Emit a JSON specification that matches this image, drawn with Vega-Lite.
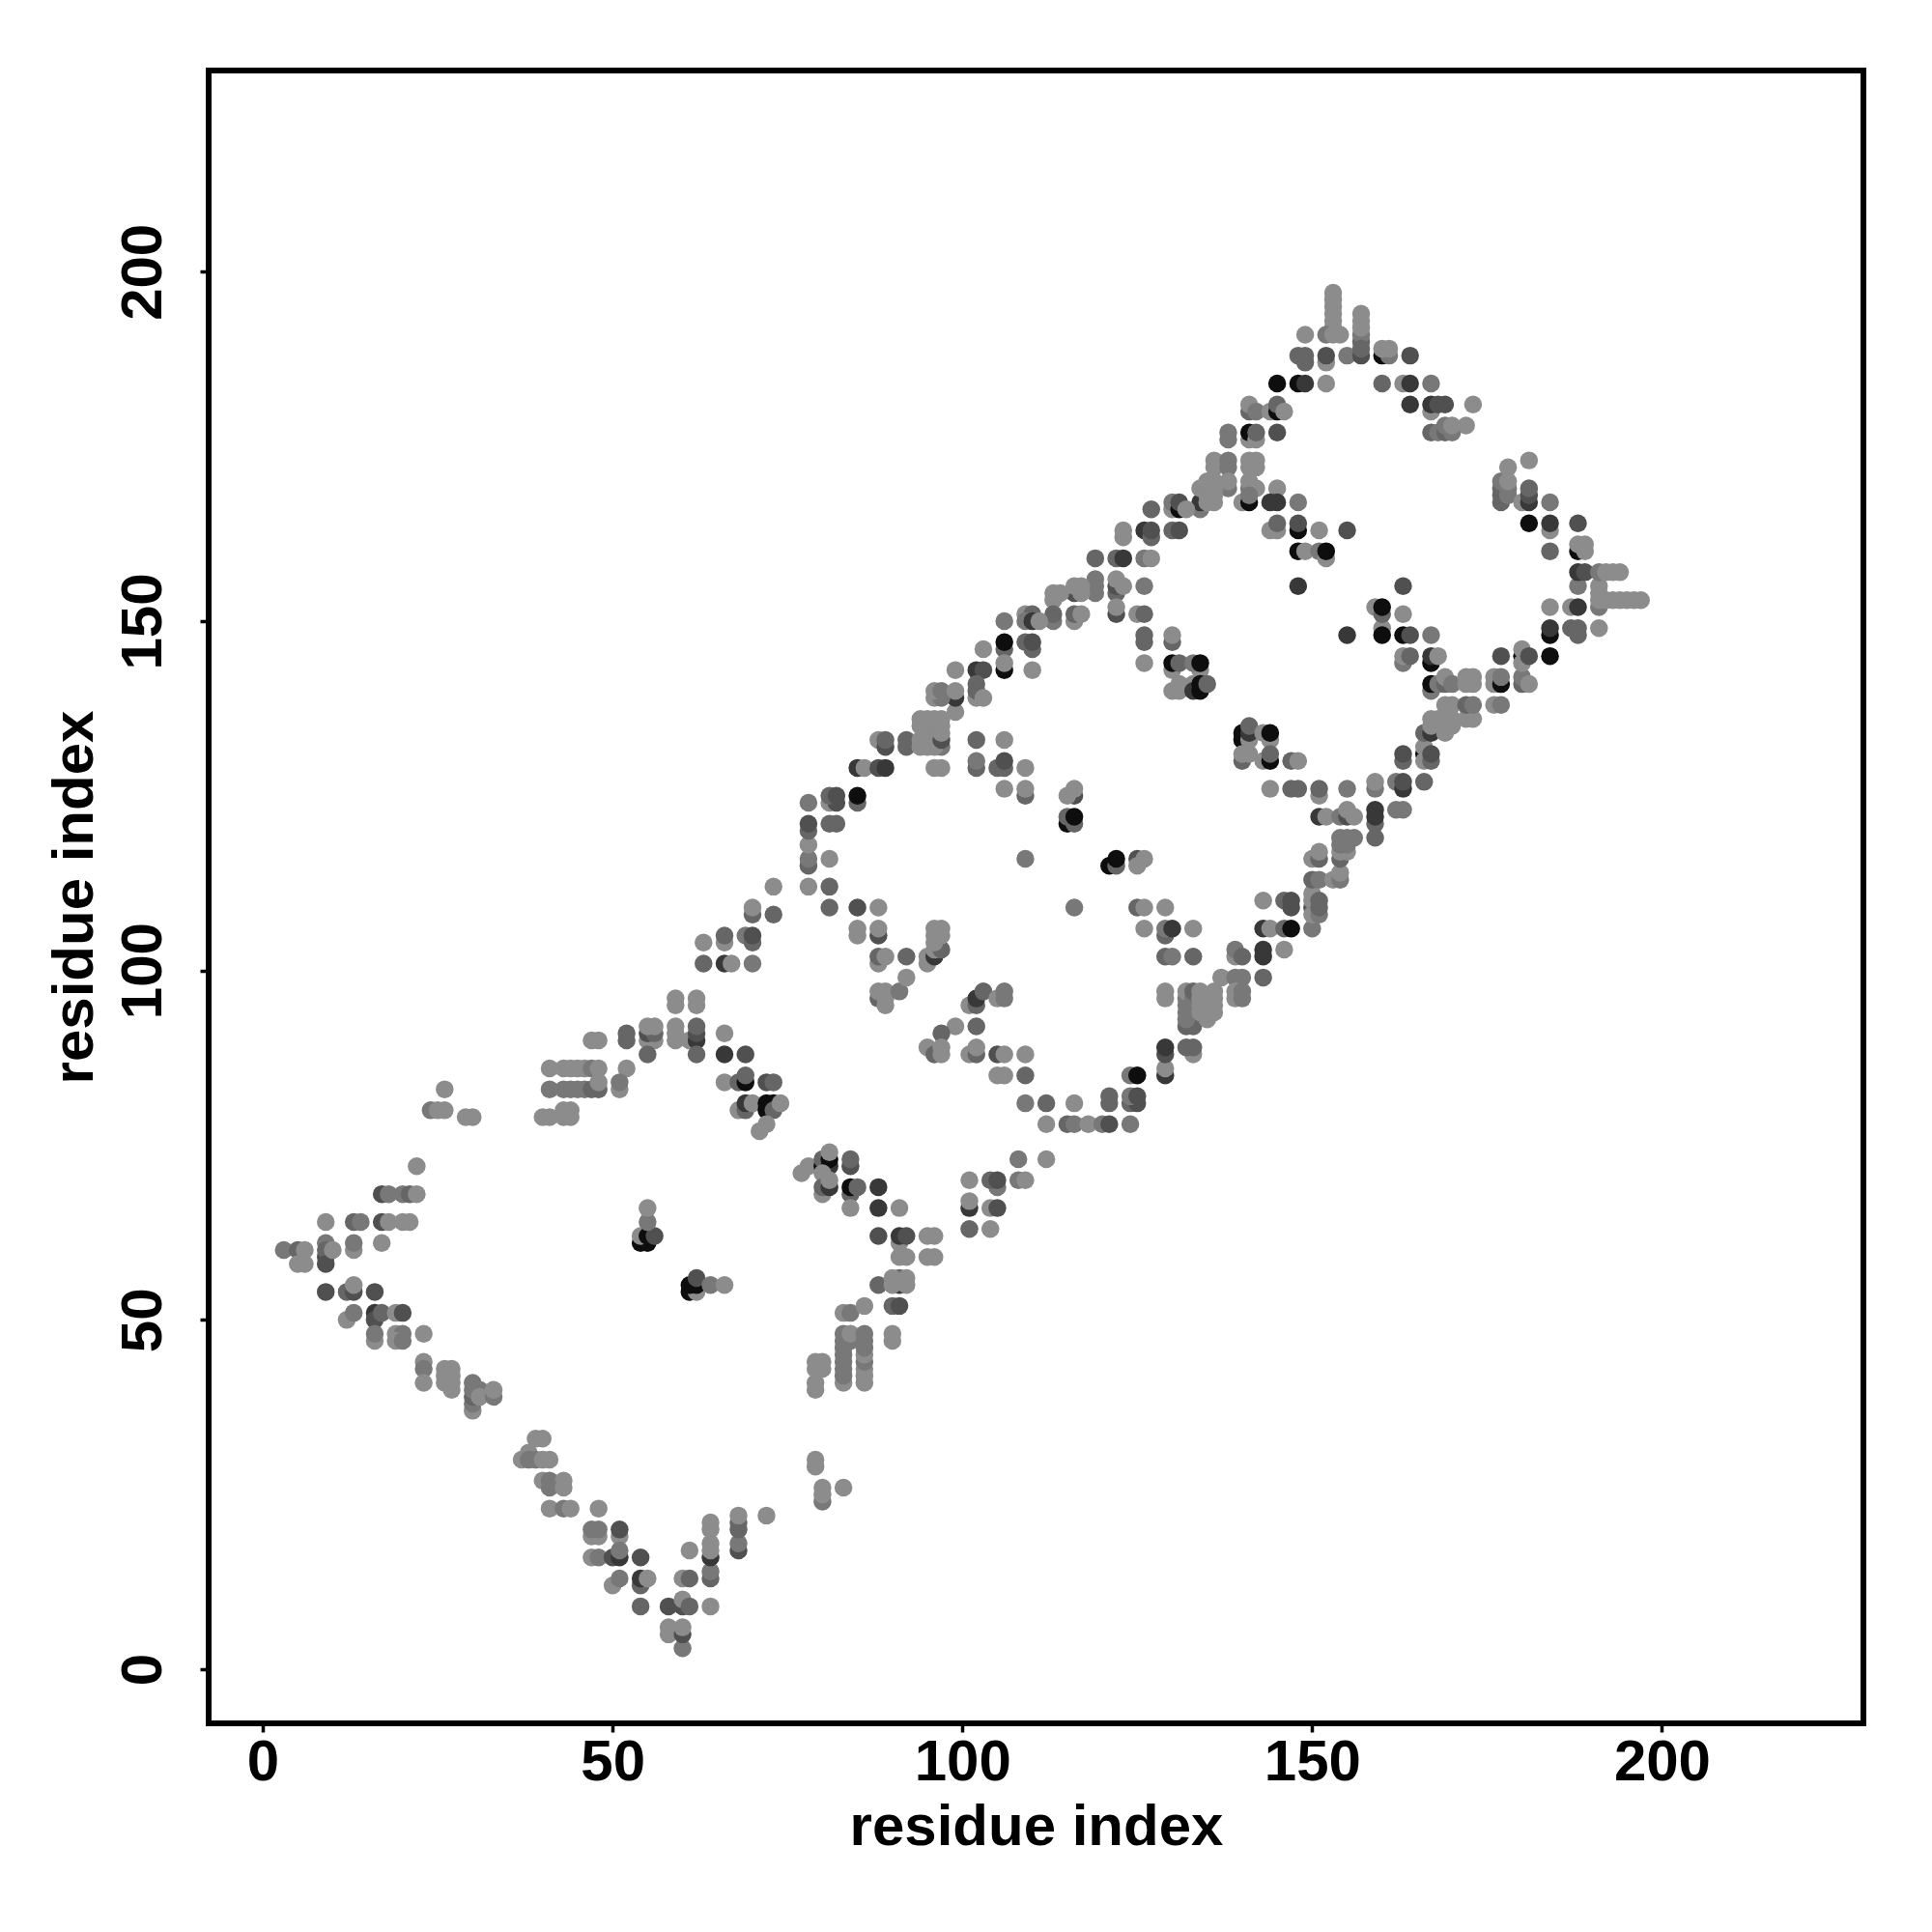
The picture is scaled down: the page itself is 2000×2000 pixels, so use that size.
{"$schema":"https://vega.github.io/schema/vega-lite/v6.json","autosize":{"type":"none"},"padding":{"left":216,"top":73,"right":71,"bottom":216},"width":1713,"height":1711,"background":"white","view":{"stroke":"black","strokeWidth":6,"fill":"white"},"data":{"values":[
{"x":3,"y":60,"s":2},{"x":5,"y":60,"s":3},{"x":6,"y":60,"s":1},{"x":5,"y":58,"s":1},{"x":6,"y":58,"s":1},{"x":9,"y":64,"s":1},{"x":9,"y":61,"s":2},{"x":9,"y":59,"s":4},{"x":9,"y":60,"s":3},{"x":9,"y":58,"s":4},{"x":10,"y":60,"s":1},{"x":13,"y":60,"s":1},{"x":13,"y":61,"s":2},{"x":13,"y":64,"s":3},{"x":14,"y":64,"s":2},{"x":17,"y":64,"s":4},{"x":18,"y":64,"s":1},{"x":20,"y":64,"s":1},{"x":21,"y":64,"s":1},{"x":17,"y":61,"s":1},{"x":17,"y":68,"s":4},{"x":18,"y":68,"s":2},{"x":20,"y":68,"s":2},{"x":21,"y":68,"s":3},{"x":22,"y":68,"s":1},{"x":22,"y":72,"s":1},{"x":26,"y":83,"s":1},{"x":24,"y":80,"s":2},{"x":25,"y":80,"s":1},{"x":26,"y":80,"s":1},{"x":29,"y":79,"s":1},{"x":30,"y":79,"s":1},
{"x":41,"y":86,"s":1},{"x":43,"y":86,"s":1},{"x":44,"y":86,"s":1},{"x":45,"y":86,"s":1},{"x":46,"y":86,"s":1},{"x":47,"y":86,"s":2},{"x":48,"y":86,"s":1},{"x":52,"y":86,"s":1},{"x":41,"y":83,"s":2},{"x":43,"y":83,"s":2},{"x":44,"y":83,"s":2},{"x":45,"y":83,"s":2},{"x":46,"y":83,"s":2},{"x":47,"y":83,"s":3},{"x":48,"y":83,"s":3},{"x":48,"y":84,"s":1},{"x":51,"y":83,"s":1},{"x":51,"y":84,"s":2},{"x":40,"y":79,"s":1},{"x":41,"y":79,"s":1},{"x":43,"y":79,"s":1},{"x":44,"y":79,"s":1},{"x":43,"y":80,"s":1},{"x":44,"y":80,"s":1},
{"x":9,"y":54,"s":4},{"x":12,"y":54,"s":3},{"x":13,"y":54,"s":4},{"x":13,"y":55,"s":1},{"x":16,"y":54,"s":4},{"x":12,"y":50,"s":1},{"x":13,"y":51,"s":2},{"x":16,"y":51,"s":5},{"x":16,"y":50,"s":4},{"x":17,"y":51,"s":3},{"x":19,"y":51,"s":1},{"x":20,"y":51,"s":4},{"x":16,"y":47,"s":1},{"x":16,"y":48,"s":2},{"x":19,"y":48,"s":1},{"x":20,"y":48,"s":2},{"x":19,"y":47,"s":1},{"x":20,"y":47,"s":2},{"x":23,"y":48,"s":1},{"x":23,"y":44,"s":1},{"x":23,"y":43,"s":2},{"x":23,"y":41,"s":1},{"x":26,"y":43,"s":1},{"x":27,"y":43,"s":1},{"x":26,"y":42,"s":1},{"x":27,"y":42,"s":1},{"x":26,"y":41,"s":1},{"x":27,"y":41,"s":1},{"x":27,"y":40,"s":1},{"x":30,"y":37,"s":1},{"x":30,"y":38,"s":2},{"x":30,"y":39,"s":3},{"x":30,"y":40,"s":2},{"x":30,"y":41,"s":2},{"x":31,"y":40,"s":2},{"x":31,"y":39,"s":1},{"x":33,"y":39,"s":2},{"x":33,"y":40,"s":1},
{"x":39,"y":33,"s":1},{"x":40,"y":33,"s":1},{"x":38,"y":31,"s":1},{"x":37,"y":30,"s":1},{"x":38,"y":30,"s":2},{"x":39,"y":30,"s":2},{"x":40,"y":30,"s":1},{"x":41,"y":30,"s":1},{"x":40,"y":27,"s":1},{"x":41,"y":27,"s":2},{"x":43,"y":27,"s":1},{"x":41,"y":26,"s":2},{"x":43,"y":26,"s":1},{"x":41,"y":23,"s":1},{"x":43,"y":23,"s":2},{"x":44,"y":23,"s":1},{"x":48,"y":23,"s":1},{"x":47,"y":19,"s":1},{"x":48,"y":19,"s":1},{"x":47,"y":20,"s":2},{"x":48,"y":20,"s":2},{"x":51,"y":19,"s":1},{"x":51,"y":20,"s":4},{"x":47,"y":16,"s":1},{"x":48,"y":16,"s":2},{"x":50,"y":16,"s":4},{"x":51,"y":16,"s":5},{"x":51,"y":17,"s":2},{"x":54,"y":16,"s":4},{"x":50,"y":12,"s":1},{"x":51,"y":13,"s":2},{"x":54,"y":12,"s":3},{"x":54,"y":13,"s":5},{"x":55,"y":13,"s":1},{"x":54,"y":9,"s":3},{"x":58,"y":9,"s":4},{"x":60,"y":9,"s":4},{"x":60,"y":10,"s":1},{"x":61,"y":9,"s":3},{"x":64,"y":9,"s":1},{"x":58,"y":6,"s":1},{"x":58,"y":5,"s":1},{"x":60,"y":3,"s":2},{"x":60,"y":5,"s":4},{"x":60,"y":6,"s":1},{"x":60,"y":13,"s":1},{"x":61,"y":13,"s":3},{"x":64,"y":13,"s":3},{"x":64,"y":14,"s":2},{"x":61,"y":17,"s":1},{"x":64,"y":16,"s":5},{"x":64,"y":17,"s":1},{"x":64,"y":18,"s":1},{"x":64,"y":20,"s":1},{"x":64,"y":21,"s":1},{"x":68,"y":17,"s":4},{"x":68,"y":18,"s":2},{"x":68,"y":20,"s":3},{"x":68,"y":21,"s":3},{"x":68,"y":22,"s":1},{"x":72,"y":22,"s":1},{"x":79,"y":30,"s":1},{"x":79,"y":29,"s":1},{"x":80,"y":24,"s":2},{"x":80,"y":25,"s":1},{"x":80,"y":26,"s":1},{"x":83,"y":26,"s":1},
{"x":79,"y":44,"s":1},{"x":80,"y":44,"s":1},{"x":79,"y":43,"s":1},{"x":80,"y":43,"s":1},{"x":79,"y":41,"s":1},{"x":79,"y":40,"s":1},{"x":83,"y":41,"s":1},{"x":83,"y":42,"s":2},{"x":83,"y":43,"s":2},{"x":83,"y":44,"s":2},{"x":83,"y":45,"s":2},{"x":83,"y":46,"s":2},{"x":83,"y":47,"s":2},{"x":83,"y":48,"s":2},{"x":84,"y":47,"s":2},{"x":84,"y":48,"s":1},{"x":86,"y":41,"s":1},{"x":86,"y":42,"s":1},{"x":86,"y":43,"s":1},{"x":86,"y":44,"s":2},{"x":86,"y":45,"s":1},{"x":86,"y":46,"s":2},{"x":86,"y":47,"s":2},{"x":86,"y":48,"s":2},{"x":90,"y":47,"s":1},{"x":90,"y":48,"s":1},{"x":83,"y":51,"s":1},{"x":84,"y":51,"s":2},{"x":86,"y":52,"s":1},{"x":90,"y":52,"s":3},{"x":91,"y":52,"s":4},{"x":88,"y":55,"s":3},{"x":91,"y":55,"s":5},{"x":91,"y":56,"s":3},{"x":90,"y":55,"s":1},{"x":90,"y":56,"s":1},{"x":92,"y":55,"s":1},{"x":92,"y":56,"s":1},{"x":91,"y":59,"s":1},{"x":92,"y":59,"s":1},{"x":95,"y":59,"s":1},{"x":96,"y":59,"s":1},{"x":91,"y":61,"s":1},{"x":88,"y":62,"s":4},{"x":91,"y":62,"s":5},{"x":92,"y":62,"s":4},{"x":95,"y":62,"s":1},{"x":96,"y":62,"s":1},{"x":101,"y":63,"s":3},{"x":104,"y":63,"s":1},{"x":101,"y":66,"s":5},{"x":101,"y":67,"s":1},{"x":104,"y":66,"s":1},{"x":105,"y":66,"s":4},{"x":101,"y":70,"s":1},{"x":105,"y":69,"s":2},{"x":104,"y":70,"s":3},{"x":105,"y":70,"s":4},{"x":108,"y":70,"s":2},{"x":109,"y":70,"s":1},{"x":108,"y":73,"s":2},{"x":112,"y":73,"s":1},
{"x":59,"y":95,"s":1},{"x":62,"y":95,"s":1},{"x":59,"y":96,"s":1},{"x":62,"y":96,"s":1},{"x":52,"y":90,"s":3},{"x":52,"y":91,"s":3},{"x":47,"y":90,"s":1},{"x":48,"y":90,"s":1},{"x":55,"y":90,"s":1},{"x":56,"y":90,"s":1},{"x":55,"y":91,"s":4},{"x":56,"y":91,"s":3},{"x":55,"y":92,"s":1},{"x":56,"y":92,"s":1},{"x":55,"y":88,"s":3},{"x":59,"y":90,"s":1},{"x":59,"y":91,"s":1},{"x":59,"y":92,"s":1},{"x":61,"y":90,"s":1},{"x":62,"y":90,"s":5},{"x":62,"y":91,"s":4},{"x":62,"y":92,"s":3},{"x":62,"y":88,"s":3},{"x":66,"y":91,"s":1},{"x":66,"y":88,"s":5},{"x":69,"y":88,"s":4},{"x":66,"y":84,"s":1},{"x":68,"y":84,"s":3},{"x":69,"y":84,"s":6},{"x":69,"y":85,"s":3},{"x":72,"y":84,"s":4},{"x":73,"y":84,"s":3},{"x":68,"y":80,"s":1},{"x":69,"y":80,"s":3},{"x":69,"y":81,"s":5},{"x":70,"y":81,"s":1},{"x":72,"y":80,"s":6},{"x":72,"y":81,"s":6},{"x":73,"y":81,"s":6},{"x":73,"y":80,"s":3},{"x":74,"y":81,"s":1},{"x":71,"y":77,"s":1},{"x":72,"y":78,"s":1},{"x":77,"y":71,"s":1},{"x":78,"y":72,"s":1},{"x":80,"y":72,"s":6},{"x":80,"y":73,"s":3},{"x":81,"y":72,"s":5},{"x":81,"y":73,"s":6},{"x":81,"y":74,"s":1},{"x":80,"y":71,"s":1},{"x":84,"y":72,"s":4},{"x":84,"y":73,"s":3},{"x":80,"y":68,"s":1},{"x":80,"y":69,"s":3},{"x":81,"y":69,"s":5},{"x":81,"y":70,"s":1},{"x":84,"y":68,"s":3},{"x":84,"y":69,"s":6},{"x":85,"y":69,"s":3},{"x":84,"y":66,"s":1},{"x":88,"y":69,"s":5},{"x":88,"y":66,"s":5},{"x":91,"y":66,"s":1},
{"x":54,"y":61,"s":6},{"x":55,"y":61,"s":6},{"x":54,"y":62,"s":1},{"x":55,"y":62,"s":6},{"x":56,"y":62,"s":4},{"x":55,"y":64,"s":2},{"x":55,"y":66,"s":1},{"x":61,"y":54,"s":6},{"x":62,"y":54,"s":1},{"x":61,"y":55,"s":6},{"x":62,"y":55,"s":6},{"x":62,"y":56,"s":4},{"x":64,"y":55,"s":2},{"x":66,"y":55,"s":1},
{"x":63,"y":104,"s":1},{"x":63,"y":101,"s":3},{"x":66,"y":101,"s":5},{"x":67,"y":101,"s":1},{"x":70,"y":101,"s":2},{"x":66,"y":104,"s":1},{"x":66,"y":105,"s":3},{"x":69,"y":105,"s":2},{"x":70,"y":104,"s":3},{"x":70,"y":105,"s":4},{"x":70,"y":108,"s":3},{"x":70,"y":109,"s":1},
{"x":99,"y":143,"s":1},{"x":99,"y":137,"s":1},{"x":99,"y":139,"s":5},{"x":96,"y":139,"s":1},{"x":97,"y":139,"s":2},{"x":96,"y":140,"s":1},{"x":97,"y":140,"s":2},{"x":99,"y":140,"s":1},{"x":88,"y":133,"s":1},{"x":89,"y":132,"s":4},{"x":89,"y":133,"s":3},{"x":92,"y":132,"s":3},{"x":92,"y":133,"s":3},{"x":97,"y":132,"s":2},{"x":96,"y":132,"s":1},{"x":94,"y":132,"s":1},{"x":95,"y":132,"s":1},{"x":94,"y":133,"s":1},{"x":95,"y":133,"s":1},{"x":96,"y":133,"s":1},{"x":97,"y":133,"s":4},{"x":94,"y":135,"s":1},{"x":95,"y":135,"s":1},{"x":96,"y":135,"s":1},{"x":97,"y":134,"s":1},{"x":97,"y":135,"s":1},{"x":94,"y":136,"s":1},{"x":95,"y":136,"s":1},{"x":96,"y":136,"s":1},{"x":97,"y":136,"s":1},
{"x":88,"y":96,"s":3},{"x":88,"y":97,"s":1},{"x":89,"y":95,"s":1},{"x":89,"y":96,"s":1},{"x":89,"y":97,"s":1},{"x":91,"y":97,"s":2},{"x":92,"y":99,"s":1},{"x":88,"y":101,"s":1},{"x":88,"y":102,"s":3},{"x":89,"y":102,"s":1},{"x":92,"y":102,"s":3},{"x":95,"y":101,"s":1},{"x":95,"y":102,"s":1},{"x":96,"y":102,"s":5},{"x":96,"y":103,"s":1},{"x":97,"y":103,"s":3},{"x":96,"y":104,"s":1},{"x":96,"y":105,"s":1},{"x":97,"y":105,"s":1},{"x":96,"y":106,"s":1},{"x":97,"y":106,"s":1},{"x":85,"y":105,"s":1},{"x":85,"y":106,"s":1},{"x":88,"y":105,"s":4},{"x":88,"y":106,"s":1},{"x":81,"y":109,"s":3},{"x":85,"y":109,"s":4},{"x":88,"y":109,"s":1},{"x":73,"y":108,"s":3},{"x":73,"y":112,"s":1},{"x":78,"y":112,"s":1},{"x":81,"y":112,"s":3},{"x":78,"y":115,"s":3},{"x":78,"y":116,"s":2},{"x":81,"y":116,"s":1},{"x":78,"y":118,"s":1},{"x":78,"y":120,"s":3},{"x":78,"y":121,"s":4},{"x":81,"y":121,"s":3},{"x":82,"y":121,"s":3},{"x":78,"y":124,"s":2},{"x":81,"y":124,"s":1},{"x":82,"y":124,"s":4},{"x":81,"y":125,"s":3},{"x":82,"y":125,"s":4},{"x":85,"y":124,"s":3},{"x":85,"y":125,"s":6},{"x":85,"y":129,"s":5},{"x":86,"y":129,"s":1},{"x":88,"y":129,"s":4},{"x":89,"y":129,"s":5},{"x":96,"y":129,"s":1},{"x":97,"y":129,"s":1},{"x":102,"y":129,"s":3},{"x":102,"y":130,"s":2},{"x":105,"y":129,"s":3},{"x":106,"y":129,"s":3},{"x":106,"y":130,"s":4},{"x":109,"y":129,"s":1},{"x":106,"y":126,"s":1},{"x":109,"y":125,"s":3},{"x":109,"y":126,"s":1},{"x":101,"y":95,"s":1},{"x":102,"y":95,"s":3},{"x":102,"y":96,"s":5},{"x":103,"y":97,"s":3},{"x":105,"y":96,"s":1},{"x":106,"y":96,"s":2},{"x":106,"y":97,"s":2},{"x":99,"y":92,"s":1},{"x":102,"y":92,"s":3},{"x":97,"y":91,"s":3},{"x":95,"y":89,"s":1},{"x":96,"y":88,"s":3},{"x":97,"y":88,"s":1},{"x":97,"y":89,"s":1},{"x":101,"y":88,"s":1},{"x":102,"y":88,"s":3},{"x":102,"y":89,"s":1},{"x":105,"y":88,"s":4},{"x":106,"y":88,"s":1},{"x":109,"y":88,"s":1},{"x":105,"y":85,"s":1},{"x":106,"y":85,"s":1},{"x":109,"y":85,"s":3},{"x":109,"y":81,"s":2},{"x":112,"y":81,"s":3},{"x":116,"y":81,"s":1},{"x":121,"y":81,"s":3},{"x":121,"y":82,"s":3},{"x":124,"y":81,"s":3},{"x":125,"y":81,"s":4},{"x":124,"y":82,"s":2},{"x":125,"y":82,"s":4},{"x":124,"y":85,"s":2},{"x":125,"y":85,"s":6},{"x":112,"y":78,"s":1},{"x":115,"y":78,"s":3},{"x":116,"y":78,"s":2},{"x":118,"y":78,"s":1},{"x":120,"y":78,"s":2},{"x":121,"y":78,"s":4},{"x":124,"y":78,"s":2},
{"x":109,"y":116,"s":2},{"x":116,"y":125,"s":4},{"x":115,"y":125,"s":1},{"x":116,"y":126,"s":1},{"x":115,"y":121,"s":6},{"x":116,"y":121,"s":3},{"x":115,"y":122,"s":3},{"x":116,"y":122,"s":6},{"x":121,"y":115,"s":6},{"x":122,"y":115,"s":3},{"x":122,"y":116,"s":6},{"x":125,"y":116,"s":4},{"x":125,"y":115,"s":1},{"x":126,"y":116,"s":1},{"x":116,"y":109,"s":2},{"x":125,"y":109,"s":3},{"x":126,"y":109,"s":1},{"x":129,"y":109,"s":1},{"x":126,"y":106,"s":1},{"x":129,"y":105,"s":3},{"x":129,"y":106,"s":2},{"x":130,"y":106,"s":5},{"x":133,"y":106,"s":1},{"x":129,"y":102,"s":3},{"x":130,"y":102,"s":2},{"x":133,"y":102,"s":3},{"x":129,"y":96,"s":1},{"x":129,"y":97,"s":1},{"x":132,"y":92,"s":3},{"x":133,"y":92,"s":3},{"x":132,"y":93,"s":2},{"x":132,"y":94,"s":2},{"x":132,"y":95,"s":2},{"x":132,"y":96,"s":2},{"x":132,"y":97,"s":1},{"x":133,"y":96,"s":2},{"x":133,"y":97,"s":3},{"x":134,"y":94,"s":1},{"x":134,"y":95,"s":1},{"x":134,"y":96,"s":1},{"x":134,"y":97,"s":1},{"x":135,"y":93,"s":1},{"x":135,"y":94,"s":1},{"x":136,"y":94,"s":1},{"x":136,"y":95,"s":1},{"x":136,"y":96,"s":1},{"x":136,"y":97,"s":1},{"x":129,"y":85,"s":5},{"x":129,"y":86,"s":1},{"x":129,"y":88,"s":4},{"x":129,"y":89,"s":5},{"x":133,"y":88,"s":1},{"x":132,"y":89,"s":3},{"x":133,"y":89,"s":3},{"x":137,"y":99,"s":1},{"x":139,"y":99,"s":2},{"x":140,"y":99,"s":2},{"x":139,"y":102,"s":1},{"x":139,"y":103,"s":2},{"x":140,"y":102,"s":3},{"x":139,"y":96,"s":1},{"x":139,"y":97,"s":1},{"x":140,"y":96,"s":2},{"x":140,"y":97,"s":2},{"x":143,"y":99,"s":3},{"x":143,"y":102,"s":5},{"x":143,"y":103,"s":5},{"x":146,"y":103,"s":1},{"x":143,"y":106,"s":5},{"x":144,"y":106,"s":1},{"x":146,"y":106,"s":3},{"x":147,"y":106,"s":6},{"x":150,"y":106,"s":2},{"x":143,"y":110,"s":1},{"x":146,"y":110,"s":3},{"x":147,"y":109,"s":4},{"x":147,"y":110,"s":4},{"x":150,"y":109,"s":4},{"x":150,"y":108,"s":1},{"x":151,"y":108,"s":2},{"x":150,"y":110,"s":1},{"x":150,"y":111,"s":1},{"x":151,"y":109,"s":3},{"x":151,"y":110,"s":3},{"x":150,"y":113,"s":3},{"x":151,"y":113,"s":2},{"x":153,"y":113,"s":1},{"x":154,"y":113,"s":2},{"x":154,"y":114,"s":1},{"x":150,"y":116,"s":1},{"x":151,"y":116,"s":3},{"x":151,"y":117,"s":1},{"x":154,"y":116,"s":3},{"x":154,"y":117,"s":1},{"x":155,"y":117,"s":1},{"x":154,"y":118,"s":2},{"x":155,"y":118,"s":2},{"x":154,"y":119,"s":2},{"x":155,"y":119,"s":2},{"x":156,"y":119,"s":2},{"x":159,"y":119,"s":3},{"x":151,"y":122,"s":5},{"x":152,"y":122,"s":1},{"x":154,"y":122,"s":2},{"x":155,"y":122,"s":4},{"x":155,"y":123,"s":1},{"x":156,"y":122,"s":1},{"x":159,"y":121,"s":3},{"x":159,"y":122,"s":5},{"x":159,"y":123,"s":5},{"x":162,"y":123,"s":2},{"x":163,"y":123,"s":2},{"x":144,"y":126,"s":1},{"x":147,"y":126,"s":3},{"x":148,"y":126,"s":3},{"x":151,"y":125,"s":1},{"x":151,"y":126,"s":3},{"x":155,"y":126,"s":2},{"x":159,"y":126,"s":2},{"x":159,"y":127,"s":1},{"x":162,"y":127,"s":2},{"x":163,"y":126,"s":5},{"x":163,"y":127,"s":4},{"x":166,"y":127,"s":3},{"x":163,"y":130,"s":3},{"x":163,"y":131,"s":4},{"x":166,"y":131,"s":6},{"x":166,"y":130,"s":1},{"x":166,"y":132,"s":1},{"x":167,"y":130,"s":3},{"x":167,"y":131,"s":4},{"x":166,"y":134,"s":3},{"x":167,"y":134,"s":5},{"x":167,"y":135,"s":1},{"x":169,"y":134,"s":1},{"x":167,"y":136,"s":1},{"x":168,"y":136,"s":1},{"x":169,"y":135,"s":1},{"x":169,"y":136,"s":1},{"x":170,"y":135,"s":1},{"x":170,"y":136,"s":1},{"x":172,"y":136,"s":1},{"x":173,"y":136,"s":1},{"x":169,"y":138,"s":1},{"x":170,"y":138,"s":1},{"x":172,"y":138,"s":3},{"x":173,"y":138,"s":2},{"x":176,"y":138,"s":1},{"x":177,"y":138,"s":2},{"x":167,"y":140,"s":2},{"x":167,"y":141,"s":6},{"x":168,"y":141,"s":2},{"x":169,"y":141,"s":3},{"x":169,"y":142,"s":1},{"x":170,"y":141,"s":2},{"x":172,"y":141,"s":1},{"x":172,"y":142,"s":1},{"x":173,"y":141,"s":1},{"x":173,"y":142,"s":1},{"x":176,"y":141,"s":1},{"x":176,"y":142,"s":1},{"x":177,"y":141,"s":6},{"x":177,"y":142,"s":2},{"x":180,"y":141,"s":3},{"x":180,"y":142,"s":2},{"x":181,"y":141,"s":1},{"x":163,"y":144,"s":2},{"x":163,"y":145,"s":1},{"x":164,"y":145,"s":3},{"x":167,"y":144,"s":6},{"x":167,"y":145,"s":5},{"x":168,"y":145,"s":1},{"x":177,"y":145,"s":4},{"x":180,"y":145,"s":6},{"x":180,"y":144,"s":1},{"x":180,"y":146,"s":1},{"x":181,"y":145,"s":4},{"x":184,"y":145,"s":6},{"x":155,"y":148,"s":5},{"x":160,"y":149,"s":1},{"x":160,"y":148,"s":6},{"x":163,"y":148,"s":6},{"x":164,"y":148,"s":4},{"x":167,"y":148,"s":2},{"x":184,"y":148,"s":6},{"x":184,"y":149,"s":5},{"x":187,"y":149,"s":3},{"x":188,"y":148,"s":3},{"x":188,"y":149,"s":3},{"x":191,"y":149,"s":1},{"x":159,"y":152,"s":1},{"x":160,"y":151,"s":3},{"x":160,"y":152,"s":6},{"x":163,"y":151,"s":1},{"x":184,"y":152,"s":1},{"x":187,"y":152,"s":1},{"x":188,"y":152,"s":5},{"x":191,"y":152,"s":2},{"x":191,"y":153,"s":1},{"x":191,"y":154,"s":1},{"x":191,"y":155,"s":1},{"x":192,"y":153,"s":1},{"x":193,"y":153,"s":1},{"x":194,"y":153,"s":1},{"x":195,"y":153,"s":1},{"x":196,"y":153,"s":1},{"x":197,"y":153,"s":1},{"x":163,"y":155,"s":4},{"x":148,"y":155,"s":5},{"x":188,"y":155,"s":2},{"x":188,"y":157,"s":5},{"x":189,"y":157,"s":4},{"x":191,"y":157,"s":2},{"x":192,"y":157,"s":1},{"x":193,"y":157,"s":1},{"x":194,"y":157,"s":1},{"x":188,"y":160,"s":6},{"x":188,"y":161,"s":1},{"x":189,"y":160,"s":1},{"x":189,"y":161,"s":1},{"x":184,"y":160,"s":3},{"x":184,"y":163,"s":1},{"x":184,"y":164,"s":5},{"x":188,"y":164,"s":4},{"x":181,"y":164,"s":6},{"x":148,"y":160,"s":6},{"x":149,"y":160,"s":1},{"x":148,"y":163,"s":6},{"x":148,"y":164,"s":4},{"x":151,"y":163,"s":1},{"x":155,"y":163,"s":4},{"x":151,"y":160,"s":2},{"x":152,"y":159,"s":1},{"x":152,"y":160,"s":6},
{"x":153,"y":192,"s":1},{"x":153,"y":193,"s":1},{"x":153,"y":194,"s":1},{"x":153,"y":195,"s":1},{"x":153,"y":196,"s":1},{"x":153,"y":197,"s":1},{"x":157,"y":190,"s":3},{"x":157,"y":191,"s":2},{"x":157,"y":192,"s":1},{"x":157,"y":193,"s":1},{"x":157,"y":194,"s":1},{"x":149,"y":191,"s":1},{"x":152,"y":191,"s":2},{"x":153,"y":191,"s":1},{"x":154,"y":191,"s":1},{"x":148,"y":188,"s":3},{"x":149,"y":187,"s":3},{"x":149,"y":188,"s":3},{"x":152,"y":187,"s":1},{"x":152,"y":188,"s":4},{"x":155,"y":188,"s":2},{"x":157,"y":188,"s":4},{"x":157,"y":189,"s":3},{"x":160,"y":188,"s":6},{"x":161,"y":188,"s":2},{"x":160,"y":189,"s":1},{"x":161,"y":189,"s":1},{"x":164,"y":188,"s":4},{"x":145,"y":184,"s":6},{"x":148,"y":184,"s":6},{"x":149,"y":184,"s":5},{"x":152,"y":184,"s":1},{"x":160,"y":184,"s":3},{"x":163,"y":184,"s":1},{"x":164,"y":184,"s":5},{"x":167,"y":184,"s":2},{"x":141,"y":180,"s":3},{"x":141,"y":181,"s":1},{"x":142,"y":180,"s":2},{"x":144,"y":180,"s":1},{"x":145,"y":180,"s":6},{"x":145,"y":181,"s":3},{"x":146,"y":180,"s":1},{"x":164,"y":181,"s":5},{"x":167,"y":180,"s":1},{"x":167,"y":181,"s":5},{"x":168,"y":181,"s":4},{"x":169,"y":181,"s":4},{"x":173,"y":181,"s":1},{"x":138,"y":176,"s":2},{"x":138,"y":177,"s":2},{"x":141,"y":176,"s":1},{"x":141,"y":177,"s":6},{"x":142,"y":176,"s":1},{"x":142,"y":177,"s":3},{"x":145,"y":177,"s":4},{"x":167,"y":177,"s":3},{"x":168,"y":177,"s":2},{"x":169,"y":177,"s":3},{"x":169,"y":178,"s":2},{"x":170,"y":177,"s":2},{"x":170,"y":178,"s":1},{"x":172,"y":178,"s":1},{"x":136,"y":172,"s":1},{"x":136,"y":173,"s":1},{"x":138,"y":172,"s":2},{"x":138,"y":173,"s":2},{"x":141,"y":172,"s":1},{"x":141,"y":173,"s":1},{"x":142,"y":172,"s":1},{"x":142,"y":173,"s":1},{"x":138,"y":169,"s":2},{"x":138,"y":170,"s":1},{"x":141,"y":169,"s":2},{"x":141,"y":170,"s":1},{"x":142,"y":169,"s":1},{"x":145,"y":169,"s":1},{"x":134,"y":166,"s":2},{"x":134,"y":167,"s":5},{"x":134,"y":169,"s":1},{"x":135,"y":167,"s":1},{"x":135,"y":168,"s":1},{"x":135,"y":169,"s":1},{"x":135,"y":170,"s":1},{"x":136,"y":167,"s":1},{"x":136,"y":168,"s":1},{"x":136,"y":169,"s":1},{"x":136,"y":170,"s":1},{"x":140,"y":167,"s":1},{"x":141,"y":167,"s":6},{"x":141,"y":168,"s":2},{"x":144,"y":167,"s":5},{"x":145,"y":167,"s":5},{"x":148,"y":167,"s":2},{"x":144,"y":163,"s":1},{"x":145,"y":163,"s":1},{"x":145,"y":164,"s":3},{"x":130,"y":166,"s":1},{"x":130,"y":167,"s":2},{"x":131,"y":166,"s":6},{"x":131,"y":167,"s":4},{"x":132,"y":166,"s":1},{"x":127,"y":166,"s":3},{"x":123,"y":162,"s":1},{"x":123,"y":163,"s":1},{"x":126,"y":163,"s":5},{"x":127,"y":162,"s":3},{"x":127,"y":163,"s":4},{"x":130,"y":163,"s":3},{"x":131,"y":163,"s":4},{"x":119,"y":159,"s":3},{"x":122,"y":159,"s":3},{"x":123,"y":159,"s":5},{"x":126,"y":159,"s":2},{"x":127,"y":159,"s":1},{"x":119,"y":154,"s":2},{"x":119,"y":155,"s":2},{"x":119,"y":156,"s":2},{"x":122,"y":154,"s":3},{"x":122,"y":155,"s":4},{"x":122,"y":156,"s":1},{"x":123,"y":155,"s":1},{"x":126,"y":155,"s":2},{"x":116,"y":154,"s":4},{"x":116,"y":155,"s":1},{"x":117,"y":154,"s":1},{"x":117,"y":155,"s":1},{"x":113,"y":153,"s":1},{"x":113,"y":154,"s":1},{"x":114,"y":154,"s":1},{"x":122,"y":151,"s":4},{"x":122,"y":152,"s":1},{"x":125,"y":151,"s":1},{"x":126,"y":151,"s":3},{"x":109,"y":151,"s":1},{"x":110,"y":151,"s":3},{"x":113,"y":150,"s":2},{"x":113,"y":151,"s":3},{"x":116,"y":150,"s":1},{"x":116,"y":151,"s":3},{"x":117,"y":151,"s":1},{"x":106,"y":150,"s":2},{"x":109,"y":150,"s":2},{"x":110,"y":150,"s":5},{"x":111,"y":150,"s":1},{"x":126,"y":147,"s":3},{"x":126,"y":148,"s":3},{"x":126,"y":144,"s":1},{"x":130,"y":147,"s":3},{"x":130,"y":148,"s":1},{"x":103,"y":146,"s":1},{"x":106,"y":146,"s":3},{"x":106,"y":147,"s":6},{"x":109,"y":147,"s":3},{"x":110,"y":146,"s":3},{"x":110,"y":147,"s":4},{"x":106,"y":143,"s":6},{"x":106,"y":144,"s":1},{"x":110,"y":143,"s":1},{"x":102,"y":143,"s":5},{"x":103,"y":143,"s":4},{"x":130,"y":143,"s":1},{"x":130,"y":144,"s":6},{"x":131,"y":144,"s":3},{"x":134,"y":143,"s":1},{"x":133,"y":144,"s":2},{"x":134,"y":144,"s":6},{"x":130,"y":140,"s":1},{"x":131,"y":140,"s":1},{"x":131,"y":141,"s":1},{"x":133,"y":141,"s":1},{"x":133,"y":140,"s":5},{"x":134,"y":140,"s":6},{"x":134,"y":141,"s":6},{"x":135,"y":141,"s":3},{"x":102,"y":141,"s":3},{"x":102,"y":139,"s":1},{"x":102,"y":140,"s":3},{"x":103,"y":139,"s":1},{"x":102,"y":133,"s":3},{"x":106,"y":133,"s":1},{"x":140,"y":133,"s":6},{"x":140,"y":134,"s":6},{"x":141,"y":133,"s":1},{"x":141,"y":134,"s":5},{"x":141,"y":135,"s":3},{"x":143,"y":134,"s":1},{"x":144,"y":133,"s":1},{"x":144,"y":134,"s":6},{"x":140,"y":130,"s":3},{"x":140,"y":131,"s":1},{"x":141,"y":131,"s":1},{"x":143,"y":130,"s":1},{"x":144,"y":130,"s":6},{"x":144,"y":131,"s":3},{"x":147,"y":130,"s":3},{"x":148,"y":130,"s":1},
{"x":177,"y":167,"s":3},{"x":177,"y":168,"s":3},{"x":177,"y":169,"s":3},{"x":177,"y":170,"s":2},{"x":178,"y":168,"s":2},{"x":178,"y":169,"s":2},{"x":178,"y":170,"s":1},{"x":178,"y":172,"s":1},{"x":180,"y":167,"s":1},{"x":181,"y":167,"s":5},{"x":181,"y":168,"s":4},{"x":181,"y":169,"s":3},{"x":181,"y":173,"s":1},{"x":184,"y":167,"s":2}
]},"mark":{"type":"point","filled":true,"opacity":1,"size":342},"encoding":{"x":{"field":"x","type":"quantitative","scale":{"domain":[-7.74,228.8],"nice":false,"zero":false},"axis":{"values":[0,50,100,150,200],"title":"residue index","grid":false,"domain":false,"tickColor":"black","tickWidth":3.5,"tickSize":9,"labelFont":"Liberation Sans","labelFontWeight":"bold","labelFontSize":60,"labelColor":"black","labelPadding":2,"labelFlush":false,"labelOverlap":false,"titleFont":"Liberation Sans","titleFontWeight":"bold","titleFontSize":60,"titleColor":"black","titlePadding":8}},"y":{"field":"y","type":"quantitative","scale":{"domain":[-7.74,228.8],"nice":false,"zero":false},"axis":{"values":[0,50,100,150,200],"title":"residue index","grid":false,"domain":false,"tickColor":"black","tickWidth":3.5,"tickSize":9,"labelFont":"Liberation Sans","labelFontWeight":"bold","labelFontSize":60,"labelColor":"black","labelAngle":-90,"labelAlign":"center","labelBaseline":"bottom","labelPadding":28,"labelFlush":false,"labelOverlap":false,"titleFont":"Liberation Sans","titleFontWeight":"bold","titleFontSize":60,"titleColor":"black","titlePadding":10}},"color":{"field":"s","type":"quantitative","legend":null,"scale":{"domain":[1,2,3,4,5,6],"range":["#8c8c8c","#787878","#666666","#505050","#383838","#0e0e0e"]}}}}
